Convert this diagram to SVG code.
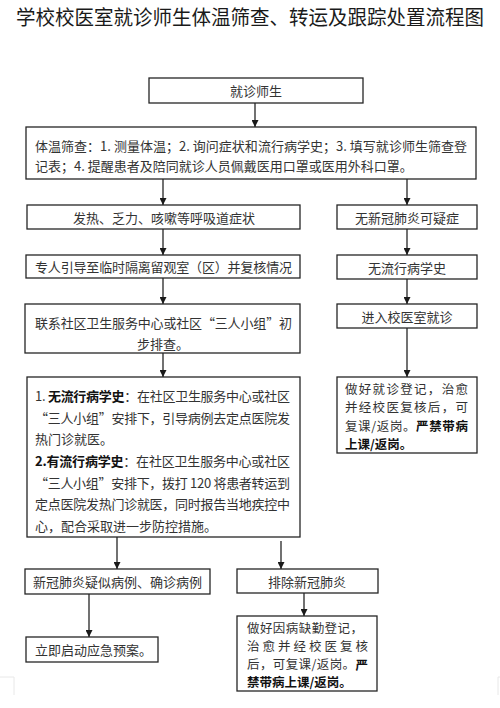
<svg xmlns="http://www.w3.org/2000/svg" width="500" height="708" viewBox="0 0 500 708">
<style>
.box{fill:#fff;stroke:#262626;stroke-width:1.3}
.t{font-family:"Noto Sans CJK SC","Noto Sans",sans-serif;font-size:13px;fill:#333;dominant-baseline:central}
.s{font-size:12.5px}
.c{text-anchor:middle}
.b{font-weight:bold;fill:#111}
.title{font-family:"Noto Sans CJK SC","Noto Sans",sans-serif;font-size:20px;fill:#1a1a1a;text-anchor:middle}
.ln{stroke:#262626;stroke-width:1.3;fill:none;marker-end:url(#ah)}
.edge{stroke:#e8e8e8;stroke-width:1;fill:none}
</style>
<defs>
<marker id="ah" viewBox="0 0 8 8" refX="8" refY="4" markerWidth="7" markerHeight="7" markerUnits="userSpaceOnUse" orient="auto">
<path d="M0,0 L8,4 L0,8 z" fill="#1a1a1a"/>
</marker>
</defs>
<rect width="500" height="708" fill="#fff"/>
<text class="title" x="250" y="25" textLength="468" lengthAdjust="spacingAndGlyphs">学校校医室就诊师生体温筛查、转运及跟踪处置流程图</text>

<g id="connectors">
<line class="ln" x1="255" y1="103" x2="255" y2="127"/>
<line class="ln" x1="163" y1="179" x2="163" y2="205"/>
<line class="ln" x1="407" y1="179" x2="407" y2="205"/>
<line class="ln" x1="163" y1="229" x2="163" y2="255"/>
<line class="ln" x1="407" y1="229" x2="407" y2="255"/>
<line class="ln" x1="163" y1="278" x2="163" y2="304"/>
<line class="ln" x1="407" y1="279" x2="407" y2="304"/>
<line class="ln" x1="163" y1="353" x2="163" y2="377"/>
<line class="ln" x1="407" y1="328" x2="407" y2="377"/>
<line class="ln" x1="117" y1="537" x2="117" y2="569"/>
<line class="ln" x1="281" y1="541" x2="281" y2="569"/>
<line class="ln" x1="89" y1="594" x2="89" y2="637"/>
<line class="ln" x1="304" y1="593" x2="304" y2="616"/>
</g>

<g id="n1"><rect class="box" x="149" y="78" width="214" height="25"/>
<text class="t c" x="256" y="90.5">就诊师生</text></g>

<g id="n2"><rect class="box" x="26" y="127" width="450" height="52"/>
<text class="t" x="35" y="145" textLength="432" lengthAdjust="spacing">体温筛查：1. 测量体温；2. 询问症状和流行病学史；3. 填写就诊师生筛查登</text>
<text class="t" x="35" y="165">记表；4. 提醒患者及陪同就诊人员佩戴医用口罩或医用外科口罩。</text></g>

<g id="n3"><rect class="box" x="27" y="205" width="273" height="24"/>
<text class="t" x="73" y="217" textLength="182" lengthAdjust="spacing">发热、乏力、咳嗽等呼吸道症状</text></g>

<g id="n4"><rect class="box" x="337" y="205" width="140" height="24"/>
<text class="t c" x="407" y="217">无新冠肺炎可疑症</text></g>

<g id="n5"><rect class="box" x="26" y="255" width="274" height="23"/>
<text class="t" x="35" y="266.5" textLength="257" lengthAdjust="spacing">专人引导至临时隔离留观室（区）并复核情况</text></g>

<g id="n6"><rect class="box" x="337" y="255" width="140" height="24"/>
<text class="t c" x="407" y="267">无流行病学史</text></g>

<g id="n7"><rect class="box" x="25" y="304" width="275" height="49"/>
<text class="t" x="35" y="322" textLength="257" lengthAdjust="spacing">联系社区卫生服务中心或社区“三人小组”初</text>
<text class="t c" x="163" y="343">步排查。</text></g>

<g id="n8"><rect class="box" x="337" y="304" width="140" height="24"/>
<text class="t c" x="407" y="316">进入校医室就诊</text></g>

<g id="n9"><rect class="box" x="27" y="377" width="273" height="160"/>
<text class="t" x="35" y="395" textLength="255" lengthAdjust="spacing">1. <tspan class="b">无流行病学史</tspan>：在社区卫生服务中心或社区</text>
<text class="t" x="35" y="417" textLength="255" lengthAdjust="spacing">“三人小组”安排下，引导病例去定点医院发</text>
<text class="t" x="35" y="438">热门诊就医。</text>
<text class="t" x="35" y="460" textLength="255" lengthAdjust="spacing"><tspan class="b">2.有流行病学史</tspan>：在社区卫生服务中心或社区</text>
<text class="t" x="35" y="482" textLength="255" lengthAdjust="spacing">“三人小组”安排下，拨打 120 将患者转运到</text>
<text class="t" x="35" y="503" textLength="255" lengthAdjust="spacing">定点医院发热门诊就医，同时报告当地疾控中</text>
<text class="t" x="35" y="525">心，配合采取进一步防控措施。</text></g>

<g id="n10"><rect class="box" x="337" y="377" width="140" height="76"/>
<text class="t s" x="345" y="388.5" textLength="123" lengthAdjust="spacing">做好就诊登记，治愈</text>
<text class="t s" x="345" y="406.8" textLength="123" lengthAdjust="spacing">并经校医复核后，可</text>
<text class="t s" x="345" y="425.1" textLength="123" lengthAdjust="spacing">复课/返岗。<tspan class="b">严禁带病</tspan></text>
<text class="t s b" x="345" y="443.4">上课/返岗。</text></g>

<g id="n11"><rect class="box" x="25" y="569" width="185" height="25"/>
<text class="t c" x="117.5" y="581.5">新冠肺炎疑似病例、确诊病例</text></g>

<g id="n12"><rect class="box" x="237" y="569" width="141" height="24"/>
<text class="t c" x="307" y="581">排除新冠肺炎</text></g>

<g id="n13"><rect class="box" x="26" y="637" width="132" height="25"/>
<text class="t" x="35" y="649.5">立即启动应急预案。</text></g>

<g id="n14"><rect class="box" x="237" y="616" width="140" height="75"/>
<text class="t s" x="247" y="627" textLength="116" lengthAdjust="spacing">做好因病缺勤登记，</text>
<text class="t s" x="247" y="645.3" textLength="121" lengthAdjust="spacing">治愈并经校医复核</text>
<text class="t s" x="247" y="663.6" textLength="121" lengthAdjust="spacing">后，可复课/返岗。<tspan class="b">严</tspan></text>
<text class="t s b" x="247" y="681.9">禁带病上课/返岗。</text></g>

<path class="edge" d="M0,677 H14 V695"/>
<path class="edge" d="M500,677 H498 V695"/>
</svg>
